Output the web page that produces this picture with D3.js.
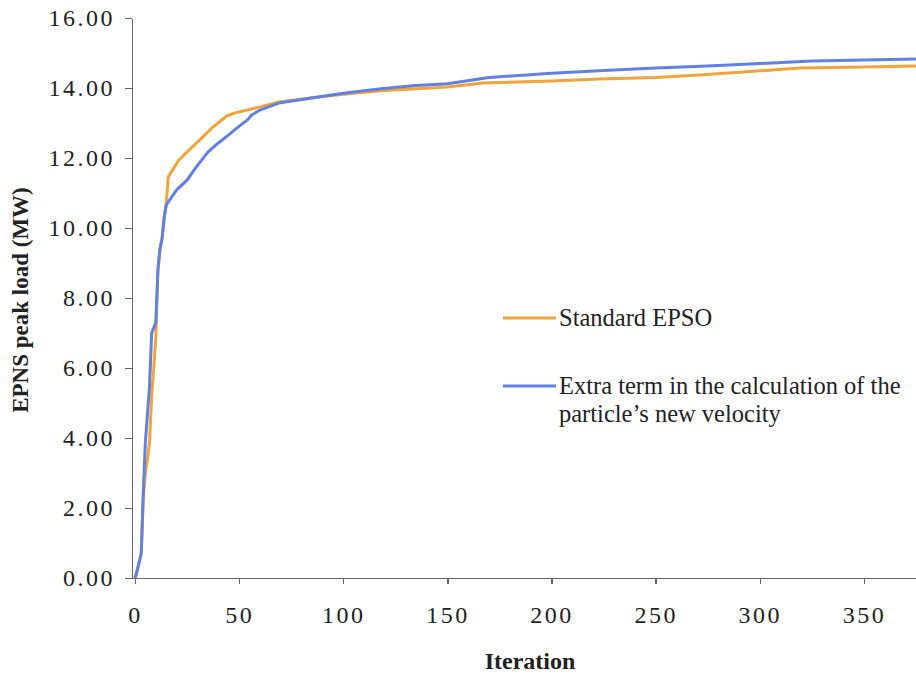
<!DOCTYPE html>
<html lang="en">
<head>
    <meta charset="UTF-8">
    <title>EPNS peak load vs iteration</title>
    <script src="https://d3js.org/d3.v7.min.js"></script>
    <style>
        body {
            margin: 0;
            background: #fff;
        }
        svg {
            display: block;
            font-family: "Liberation Serif", "Times New Roman", serif;
        }
        .axis path,
        .axis line {
            stroke: #666;
            stroke-width: 1.3;
            shape-rendering: crispEdges;
        }
        .axis text {
            fill: #222;
            font-family: "Liberation Serif", "Times New Roman", serif;
            font-size: 24px;
            letter-spacing: 2.5px;
        }
        .series {
            fill: none;
            stroke-width: 3;
            stroke-linejoin: round;
        }
        .legend text {
            font-size: 24.5px;
            fill: #222;
        }
    </style>
</head>
<body>
    <svg id="chart" width="916" height="676"></svg>

    <script>
        // Values (iteration, EPNS peak load in MW)
        const standardIter = [0, 1, 3, 4, 5, 6, 7, 8, 9, 10, 11, 12, 13, 14, 15, 16, 21, 26, 31, 37, 44, 48, 54, 60, 69, 88, 100, 118, 135, 150, 167, 200, 223, 250, 271, 290, 319, 350, 375, 400];
        const standardLoad = [0, 0.2, 0.7, 2.3, 3.0, 3.4, 3.9, 5.2, 6.0, 6.9, 8.8, 9.4, 9.7, 10.3, 10.7, 11.46, 11.94, 12.23, 12.51, 12.86, 13.2, 13.29, 13.37, 13.46, 13.6, 13.74, 13.82, 13.92, 13.98, 14.03, 14.14, 14.2, 14.26, 14.3, 14.37, 14.45, 14.57, 14.6, 14.63, 14.65];

        const extraIter = [0, 1, 3, 4, 5, 7, 8, 10, 11, 12, 13, 14, 15, 20, 25, 29, 35, 40, 45, 49, 54, 56, 60, 69, 88, 100, 118, 135, 150, 170, 200, 225, 250, 275, 300, 325, 350, 375, 400];
        const extraLoad = [0, 0.2, 0.7, 2.5, 3.9, 5.5, 7.0, 7.3, 8.8, 9.4, 9.7, 10.3, 10.66, 11.09, 11.37, 11.71, 12.17, 12.43, 12.66, 12.86, 13.09, 13.23, 13.37, 13.57, 13.74, 13.85, 13.98, 14.07, 14.12, 14.3, 14.42, 14.5, 14.57, 14.63, 14.7, 14.77, 14.8, 14.83, 14.85];

        const xTicks = [0, 50, 100, 150, 200, 250, 300, 350];
        const yTicks = [0, 2, 4, 6, 8, 10, 12, 14, 16];

        const seriesNames = ["Standard EPSO", "Extra term in the calculation of the|particle\u2019s new velocity"];
        const seriesColors = ["#f2a33a", "#6180e4"];

        const svg = d3.select("#chart");

        // plot runs past the right edge, like the cropped original
        const x = d3.scaleLinear().domain([0, 400]).range([135, 968]);
        const y = d3.scaleLinear().domain([0, 16]).range([578, 18]);

        // Eje Y
        svg.append("g")
            .attr("class", "axis")
            .attr("transform", "translate(132,0)")
            .call(d3.axisLeft(y).tickValues(yTicks).tickSize(7).tickPadding(10).tickSizeOuter(0)
                .tickFormat(d3.format(".2f")));

        // Eje X
        const xAxis = svg.append("g")
            .attr("class", "axis")
            .attr("transform", "translate(0,578)")
            .call(d3.axisBottom(x).tickValues(xTicks).tickSize(6).tickPadding(22).tickSizeOuter(0)
                .tickFormat(d3.format("d")));

        // stretch the x axis line from the left spine to the edge
        xAxis.select("path").attr("d", "M132,0.5H916");

        const line = d3.line()
            .x(d => x(d[0]))
            .y(d => y(d[1]));

        const standard = standardIter.map((v, i) => [v, standardLoad[i]]);
        const extra = extraIter.map((v, i) => [v, extraLoad[i]]);

        svg.append("path")
            .datum(standard)
            .attr("class", "series")
            .attr("stroke", seriesColors[0])
            .attr("d", line);

        svg.append("path")
            .datum(extra)
            .attr("class", "series")
            .attr("stroke", seriesColors[1])
            .attr("d", line);

        // axis titles
        svg.append("text")
            .attr("transform", "translate(28,300) rotate(-90)")
            .attr("text-anchor", "middle")
            .attr("font-weight", "bold")
            .attr("font-size", 23)
            .attr("fill", "#222")
            .text("EPNS peak load (MW)");

        svg.append("text")
            .attr("x", 530)
            .attr("y", 669)
            .attr("text-anchor", "middle")
            .attr("font-weight", "bold")
            .attr("font-size", 24)
            .attr("fill", "#222")
            .text("Iteration");

        // legend
        const legend = svg.append("g").attr("class", "legend");
        const legendY = [318, 386];

        seriesNames.forEach((name, i) => {
            legend.append("line")
                .attr("x1", 503).attr("x2", 556)
                .attr("y1", legendY[i]).attr("y2", legendY[i])
                .attr("stroke", seriesColors[i])
                .attr("stroke-width", 3);

            const t = legend.append("text")
                .attr("x", 559)
                .attr("y", legendY[i] + 8);
            name.split("|").forEach((part, j) => {
                t.append("tspan")
                    .attr("x", 559)
                    .attr("dy", j === 0 ? 0 : 28)
                    .text(part);
            });
        });
    </script>
</body>
</html>
